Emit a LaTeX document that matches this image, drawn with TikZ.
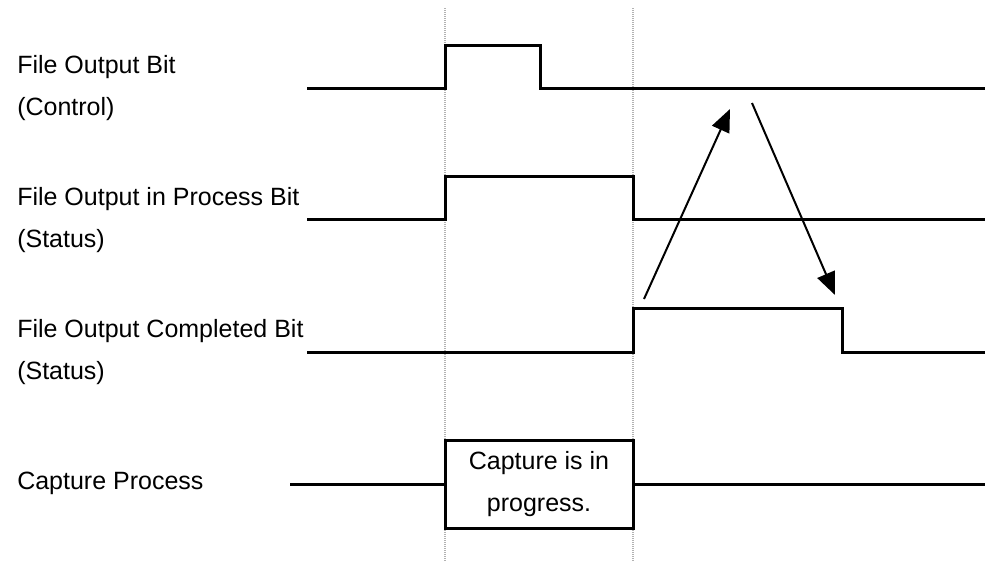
\documentclass[tikz,border=0pt]{standalone}
\usepackage{fontspec}
\setmainfont{Liberation Sans}
\usetikzlibrary{arrows.meta, positioning}

\begin{document}
\begin{tikzpicture}[x=0.75pt, y=-0.75pt, font=\fontsize{18.75}{31}\selectfont,
    signal/.style={line width=2.25pt, line join=miter},
    marker/.style={gray!60, line width=1.6pt, dash pattern=on 0.75pt off 0.75pt},
    siglabel/.style={anchor=base west, inner sep=0pt},
    cause/.style={line width=1.5pt, -{Triangle[length=17pt, width=14pt]}}]
    \useasboundingbox (0,0) rectangle (985,562);

    % Markers: start and end of the file output
    \draw[marker] (445,8) -- (445,562);
    \draw[marker] (633,8) -- (633,562);

    % Labels
    \node[siglabel] (CtrlA) at (17,73) {File Output Bit};
    \node[siglabel] (CtrlB) at (17,115) {(Control)};
    \node[siglabel] (ProcA) at (17,205) {File Output in Process Bit};
    \node[siglabel] (ProcB) at (17,247) {(Status)};
    \node[siglabel] (DoneA) at (17,337) {File Output Completed Bit};
    \node[siglabel] (DoneB) at (17,379) {(Status)};
    \node[siglabel] (Capt) at (17,489) {Capture Process};

    % Waveforms
    \draw[signal] (307,88) -- (445,88) -- (445,45) -- (540,45) -- (540,88) -- (985,88);
    \draw[signal] (307,219) -- (445,219) -- (445,176) -- (633,176) -- (633,219) -- (985,219);
    \draw[signal] (307,352) -- (633,352) -- (633,308) -- (842,308) -- (842,352) -- (985,352);

    % Capture process
    \node[draw, line width=2.25pt, minimum width=141pt, minimum height=66pt, align=center] (CapBox) at (539,484) {Capture is in\\progress.};
    \coordinate (CapL) at (290,484);
    \coordinate (CapR) at (985,484);
    \draw[signal] (CapL) -- (CapBox.west);
    \draw[signal] (CapBox.east) -- (CapR);

    % Handshake arrows
    \coordinate (UpFrom) at (644,299);
    \coordinate (UpTo) at (730,109);
    \coordinate (DownFrom) at (752,103);
    \coordinate (DownTo) at (835,295);
    \draw[cause] (UpFrom) -- (UpTo);
    \draw[cause] (DownFrom) -- (DownTo);
\end{tikzpicture}
\end{document}
